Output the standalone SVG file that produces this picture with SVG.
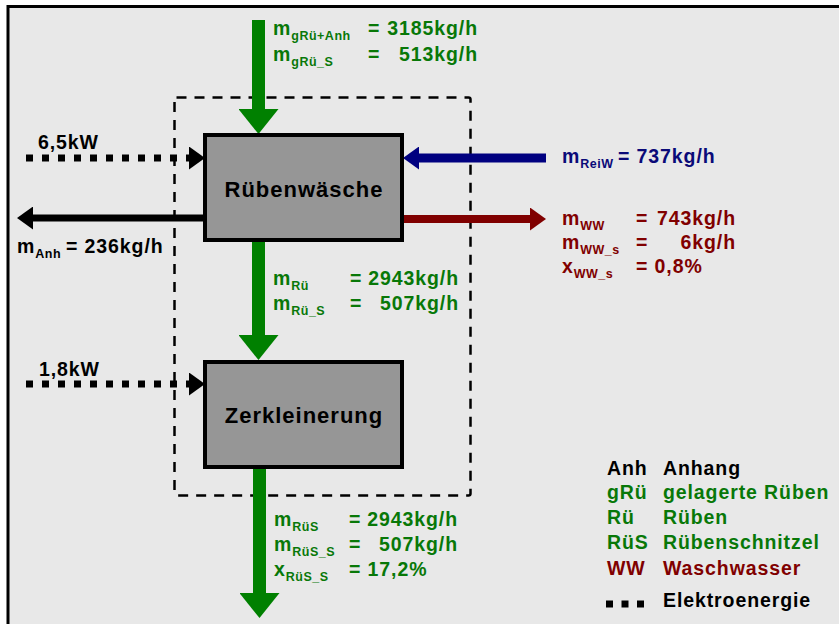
<svg xmlns="http://www.w3.org/2000/svg" width="839" height="624" viewBox="0 0 839 624">
<style>
text{font-family:"Liberation Sans",Arial,sans-serif;font-weight:bold;font-size:19.5px;letter-spacing:0.9px}
.sub{font-size:12.5px;letter-spacing:0.5px}
.lbl{font-size:22px;letter-spacing:1px;text-anchor:middle}
.g{fill:#087808}.r{fill:#800000}.b{fill:#0a0a78}.k{fill:#000}
.end{text-anchor:end}
.box{fill:#969696;stroke:#000;stroke-width:4}
.power{stroke:#000;stroke-width:7;stroke-dasharray:7 9;fill:none}
</style>
<defs>
<marker id="hg" markerUnits="userSpaceOnUse" markerWidth="25" markerHeight="40" refX="0" refY="20" orient="auto"><path d="M0,0 L25,20 L0,40 z" fill="#008000"/></marker>
<marker id="hk" markerUnits="userSpaceOnUse" markerWidth="16" markerHeight="23" refX="0" refY="11.5" orient="auto"><path d="M0,0 L16,11.5 L0,23 z" fill="#000"/></marker>
<marker id="hb" markerUnits="userSpaceOnUse" markerWidth="16" markerHeight="23" refX="0" refY="11.5" orient="auto"><path d="M0,0 L16,11.5 L0,23 z" fill="#000080"/></marker>
<marker id="hr" markerUnits="userSpaceOnUse" markerWidth="16" markerHeight="23" refX="0" refY="11.5" orient="auto"><path d="M0,0 L16,11.5 L0,23 z" fill="#800000"/></marker>
</defs>
<rect width="839" height="624" fill="#fff"/>
<rect x="8" y="6.5" width="840" height="630" fill="#e8e8e8" stroke="#000" stroke-width="3"/>
<rect id="boundary" x="174.5" y="97.5" width="296" height="398" rx="2" fill="none" stroke="#000" stroke-width="2.5" stroke-dasharray="10 8"/>

<g id="connectors">
<line x1="258.5" y1="20" x2="258.5" y2="109" stroke="#008000" stroke-width="13" marker-end="url(#hg)"/>
<line x1="258.5" y1="242" x2="258.5" y2="335" stroke="#008000" stroke-width="13" marker-end="url(#hg)"/>
<line x1="259.5" y1="469" x2="259.5" y2="593" stroke="#008000" stroke-width="13" marker-end="url(#hg)"/>
<line class="power" x1="26" y1="158" x2="189" y2="158" marker-end="url(#hk)"/>
<line class="power" x1="26" y1="384" x2="189" y2="384" marker-end="url(#hk)"/>
<line x1="203" y1="218" x2="33" y2="218" stroke="#000" stroke-width="7" marker-end="url(#hk)"/>
<line x1="546" y1="158" x2="419" y2="158" stroke="#000080" stroke-width="9" marker-end="url(#hb)"/>
<line x1="404" y1="219" x2="530" y2="219" stroke="#800000" stroke-width="8" marker-end="url(#hr)"/>
</g>

<g id="ruebenwaesche">
<rect class="box" x="205" y="135" width="197" height="105"/>
<text class="lbl k" x="304" y="197">Rübenwäsche</text>
</g>
<g id="zerkleinerung">
<rect class="box" x="205" y="362" width="197" height="105"/>
<text class="lbl k" x="304" y="423">Zerkleinerung</text>
</g>

<g id="label-top">
<text class="g" x="273" y="35">m<tspan class="sub" dy="5">gRü+Anh</tspan></text>
<text class="g" x="368" y="35">=</text>
<text class="g end" x="478" y="35">3185kg/h</text>
<text class="g" x="273" y="61">m<tspan class="sub" dy="5">gRü_S</tspan></text>
<text class="g" x="368" y="61">=</text>
<text class="g end" x="478" y="61">513kg/h</text>
</g>
<g id="label-mid">
<text class="g" x="273" y="285">m<tspan class="sub" dy="5">Rü</tspan></text>
<text class="g" x="350" y="285">=</text>
<text class="g end" x="459" y="285">2943kg/h</text>
<text class="g" x="273" y="310">m<tspan class="sub" dy="5">Rü_S</tspan></text>
<text class="g" x="350" y="310">=</text>
<text class="g end" x="459" y="310">507kg/h</text>
</g>
<g id="label-bottom">
<text class="g" x="274" y="526">m<tspan class="sub" dy="5">RüS</tspan></text>
<text class="g" x="349" y="526">=</text>
<text class="g end" x="458" y="526">2943kg/h</text>
<text class="g" x="274" y="551">m<tspan class="sub" dy="5">RüS_S</tspan></text>
<text class="g" x="349" y="551">=</text>
<text class="g end" x="458" y="551">507kg/h</text>
<text class="g" x="274" y="576">x<tspan class="sub" dy="5">RüS_S</tspan></text>
<text class="g" x="349" y="576">= 17,2%</text>
</g>
<g id="label-reiw">
<text class="b" x="562" y="163">m<tspan class="sub" dy="5">ReiW</tspan></text>
<text class="b" x="618" y="163">= 737kg/h</text>
</g>
<g id="label-ww">
<text class="r" x="562" y="225">m<tspan class="sub" dy="5">WW</tspan></text>
<text class="r" x="636" y="225">=</text>
<text class="r end" x="736" y="225">743kg/h</text>
<text class="r" x="562" y="249">m<tspan class="sub" dy="5">WW_s</tspan></text>
<text class="r" x="636" y="249">=</text>
<text class="r end" x="736" y="249">6kg/h</text>
<text class="r" x="562" y="273">x<tspan class="sub" dy="5">WW_s</tspan></text>
<text class="r" x="636" y="273">= 0,8%</text>
</g>
<g id="label-anh">
<text class="k" x="17" y="253">m<tspan class="sub" dy="5">Anh</tspan></text>
<text class="k" x="66" y="253">= 236kg/h</text>
</g>
<g id="label-power">
<text class="k" x="38" y="149">6,5kW</text>
<text class="k" x="39" y="376">1,8kW</text>
</g>

<g id="legend">
<text class="k" x="607" y="475">Anh</text><text class="k" x="663" y="475">Anhang</text>
<text class="g" x="607" y="499">gRü</text><text class="g" x="663" y="499">gelagerte Rüben</text>
<text class="g" x="607" y="524">Rü</text><text class="g" x="663" y="524">Rüben</text>
<text class="g" x="607" y="549">RüS</text><text class="g" x="663" y="549">Rübenschnitzel</text>
<text class="r" x="607" y="575">WW</text><text class="r" x="663" y="575">Waschwasser</text>
<line x1="606" y1="604" x2="644" y2="604" stroke="#000" stroke-width="7" stroke-dasharray="7 8.5"/>
<text class="k" x="663" y="607">Elektroenergie</text>
</g>
</svg>
